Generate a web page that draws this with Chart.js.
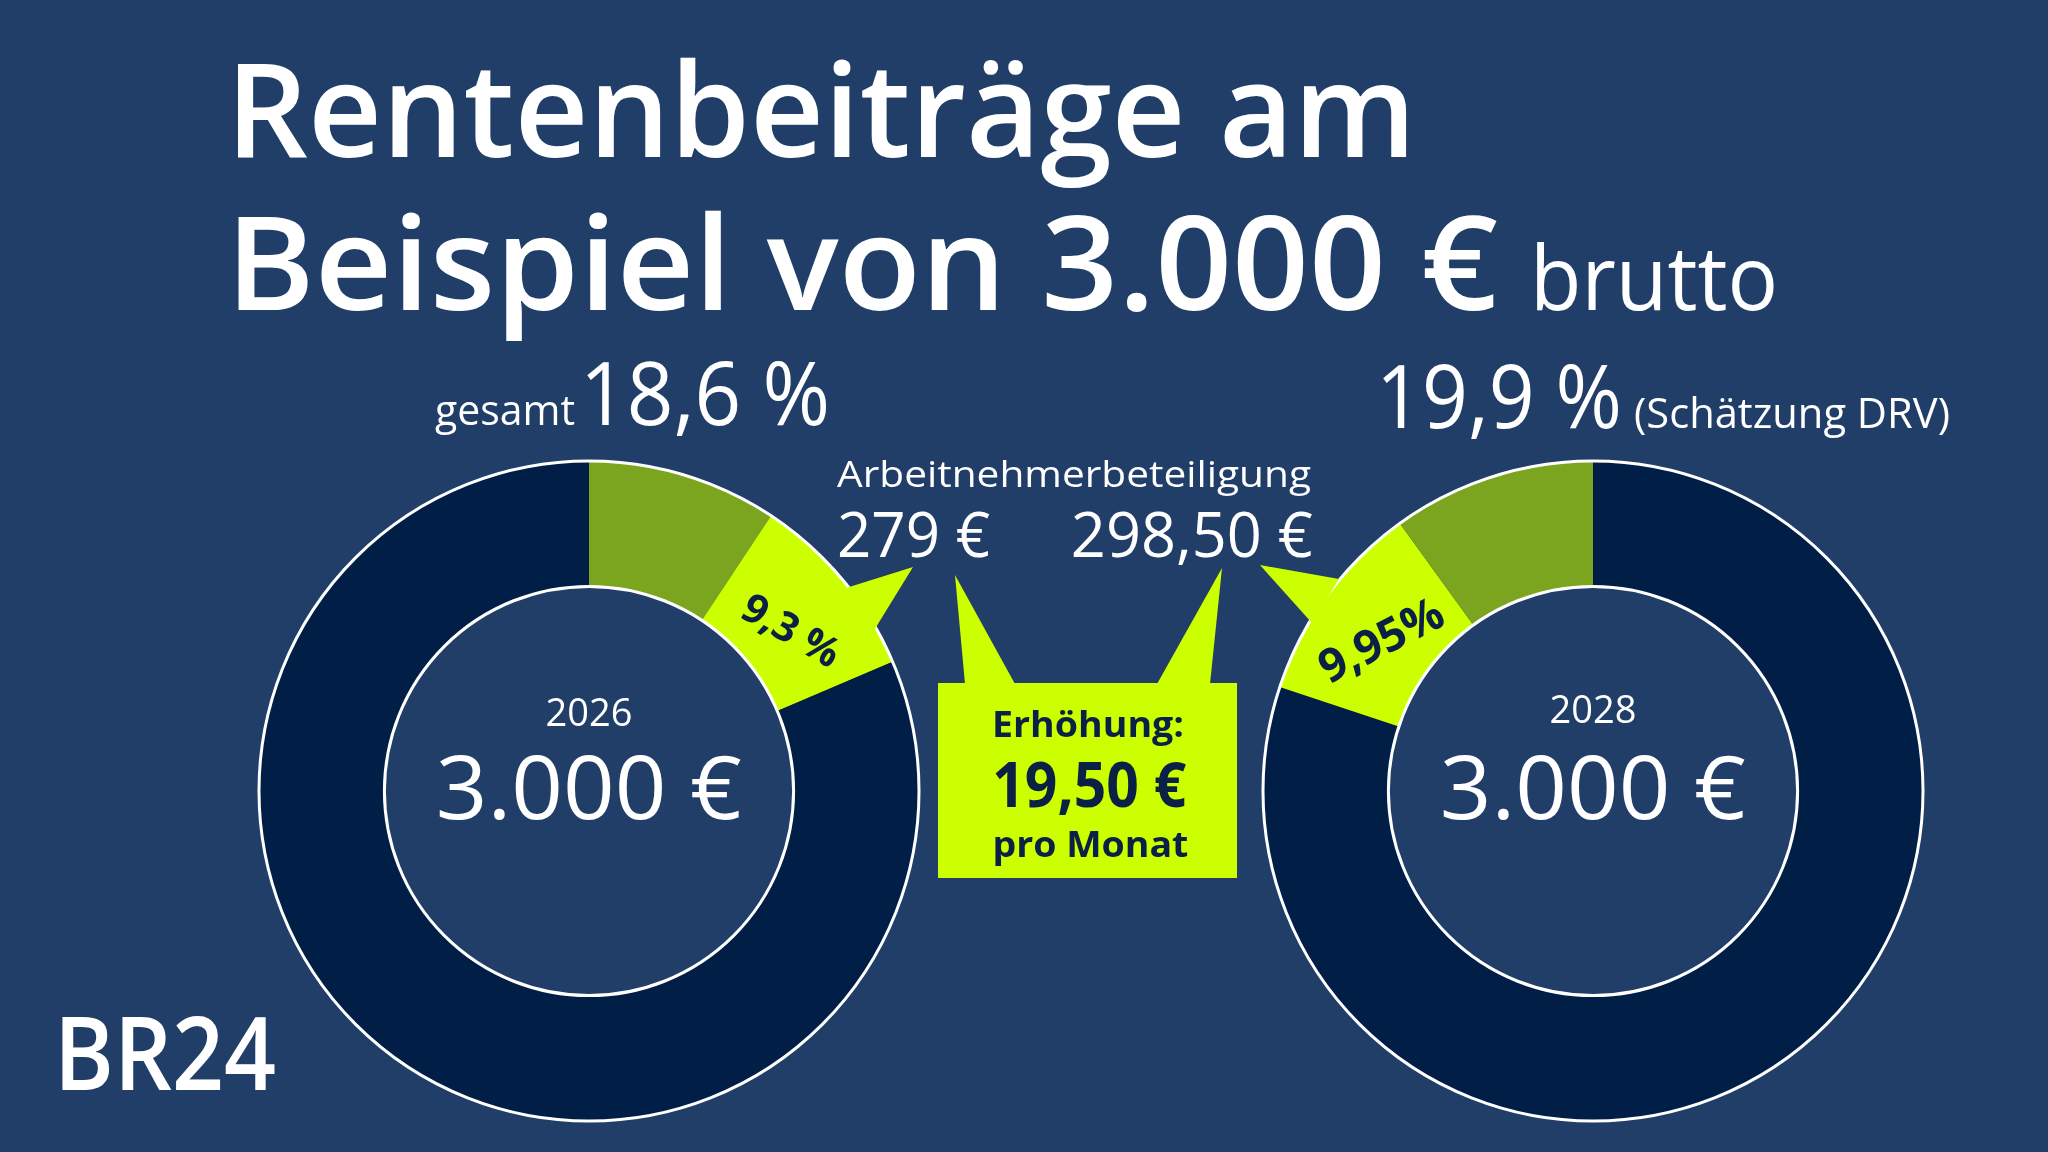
<!DOCTYPE html>
<html lang="de">
<head>
<meta charset="utf-8">
<title>Rentenbeiträge am Beispiel von 3.000 € brutto</title>
<script src="https://cdn.jsdelivr.net/npm/chart.js@4.4.1/dist/chart.umd.min.js"></script>
<style>
  html, body { margin: 0; padding: 0; background: #203e68; }
  #stage { position: relative; width: 2048px; height: 1152px; overflow: hidden; background: #203e68; }
  .ring { position: absolute; width: 670px; height: 670px; top: 456px; }
  #ring2026 { left: 254px; }
  #ring2028 { left: 1258px; }
  #callouts { position: absolute; left: 0; top: 0; }
  .txt { position: absolute; white-space: nowrap; line-height: 1; font-family: 'Open Sans', 'Noto Sans', sans-serif; color: #fff; }
  .seg { position: absolute; white-space: nowrap; line-height: 1; font-family: 'Open Sans', sans-serif; font-weight: 700; color: #0b2045; }
</style>
</head>
<body>
<div id="stage">
  <canvas id="ring2026" class="ring" width="670" height="670"></canvas>
  <canvas id="ring2028" class="ring" width="670" height="670"></canvas>
  <svg id="callouts" width="2048" height="1152">
    <!-- tails from the lime segments -->
    <polygon points="846,588 913,567 873,632" fill="#ccff00"/>
    <polygon points="1339,579 1260,565 1312,623" fill="#ccff00"/>
    <!-- increase box with two tails -->
    <polygon points="965,684 955,575 1015,684" fill="#ccff00"/>
    <polygon points="1157,684 1222,568 1210,684" fill="#ccff00"/>
    <rect x="938" y="683" width="299" height="195" fill="#ccff00"/>
  </svg>
</div>

<script>
// Data: contribution rates in percent of gross pay
const years = ['2026', '2028'];
const grossPay = [3000, 3000];
const totalRate = [18.6, 19.9];
const employeeRate = [9.3, 9.95];
const employerRate = [9.3, 9.95];
const employeeEuro = [279, 298.5];

// Colours
const NAVY = '#011e46';
const LIME = '#ccff00';
const GREEN = '#7ca51f';
const INK = '#0b2045';

const stage = document.getElementById('stage');

// German number formatting
function de(v, decimals) {
  const parts = v.toFixed(decimals).split('.');
  parts[0] = parts[0].replace(/\B(?=(\d{3})+(?!\d))/g, '.');
  return parts.join(',');
}

// White outline at outer and inner edge of the ring
const ringOutline = {
  id: 'ringOutline',
  afterDatasetsDraw(chart) {
    const arc = chart.getDatasetMeta(0).data[0];
    const ctx = chart.ctx;
    ctx.save();
    ctx.strokeStyle = '#ffffff';
    ctx.lineWidth = 3;
    [arc.outerRadius, arc.innerRadius].forEach(r => {
      ctx.beginPath();
      ctx.arc(arc.x, arc.y, r, 0, Math.PI * 2);
      ctx.stroke();
    });
    ctx.restore();
  }
};

function makeRing(canvasId, values, colors) {
  return new Chart(document.getElementById(canvasId), {
    type: 'doughnut',
    data: {
      labels: values.map((_, i) => i),
      datasets: [{
        data: values,
        backgroundColor: colors,
        borderWidth: 0
      }]
    },
    options: {
      responsive: false,
      animation: false,
      cutout: '62%',
      layout: { padding: 5 },
      plugins: {
        legend: { display: false },
        tooltip: { enabled: false }
      }
    },
    plugins: [ringOutline]
  });
}

// 2026: employer share, employee share, rest of gross pay (clockwise from top)
const chart2026 = makeRing('ring2026',
  [employerRate[0], employeeRate[0], 100 - totalRate[0]],
  [GREEN, LIME, NAVY]);

// 2028: rest, employee share, employer share (employer part ends at the top)
const chart2028 = makeRing('ring2028',
  [100 - totalRate[1], employeeRate[1], employerRate[1]],
  [NAVY, LIME, GREEN]);

// Text placement: x anchor, baseline y, size, optional target width
function baselineOf(el) {
  const probe = document.createElement('span');
  probe.style.cssText = 'display:inline-block;width:0;height:0;vertical-align:baseline';
  el.appendChild(probe);
  const off = probe.offsetTop;
  probe.remove();
  return off;
}

function placeText(spec) {
  const el = document.createElement('div');
  el.className = 'txt';
  el.textContent = spec.t;
  el.style.fontSize = spec.s + 'px';
  el.style.fontWeight = spec.weight || 400;
  if (spec.color) el.style.color = spec.color;
  stage.appendChild(el);
  const natural = el.getBoundingClientRect().width;
  const base = baselineOf(el);
  const align = spec.align || 'left';
  let left = spec.x;
  if (align === 'center') left = spec.x - natural / 2;
  if (align === 'right') left = spec.x - natural;
  el.style.left = left + 'px';
  el.style.top = (spec.y - base) + 'px';
  if (spec.w) {
    el.style.transformOrigin = align === 'center' ? 'center' : align;
    el.style.transform = `scaleX(${spec.w / natural})`;
  }
}

function placeSegmentLabel(chart, canvasId, index, text, size, angle, dx, dy) {
  const canvas = document.getElementById(canvasId);
  const p = chart.getDatasetMeta(0).data[index].tooltipPosition();
  const el = document.createElement('div');
  el.className = 'seg';
  el.textContent = text;
  el.style.fontSize = size + 'px';
  el.style.left = (canvas.offsetLeft + p.x + dx) + 'px';
  el.style.top = (canvas.offsetTop + p.y + dy) + 'px';
  el.style.transform = `translate(-50%, -50%) rotate(${angle}deg)`;
  stage.appendChild(el);
}

const increase = employeeEuro[1] - employeeEuro[0];

const texts = [
  { t: 'Rentenbeiträge am', x: 226, y: 157, s: 130, weight: 600, w: 1190 },
  { t: `Beispiel von ${de(grossPay[0], 0)} €`, x: 226, y: 310, s: 130, weight: 600, w: 1272 },
  { t: 'brutto', x: 1530, y: 310, s: 90, w: 248 },
  { t: 'gesamt', x: 435, y: 425, s: 42, w: 140 },
  { t: `${de(totalRate[0], 1)} %`, x: 580, y: 425, s: 88, w: 250 },
  { t: `${de(totalRate[1], 1)} %`, x: 1376, y: 428, s: 88, w: 246 },
  { t: '(Schätzung DRV)', x: 1634, y: 428, s: 42, w: 316 },
  { t: 'Arbeitnehmerbeteiligung', x: 837, y: 487, s: 36, w: 474 },
  { t: `${de(employeeEuro[0], 0)} €`, x: 837, y: 557, s: 62, w: 153 },
  { t: `${de(employeeEuro[1], 2)} €`, x: 1313, y: 557, s: 62, w: 242, align: 'right' },
  { t: years[0], x: 589, y: 726, s: 38, align: 'center' },
  { t: `${de(grossPay[0], 0)} €`, x: 589, y: 819, s: 88, w: 306, align: 'center' },
  { t: years[1], x: 1593, y: 723, s: 38, align: 'center' },
  { t: `${de(grossPay[1], 0)} €`, x: 1593, y: 819, s: 88, w: 306, align: 'center' },
  { t: 'Erhöhung:', x: 1088, y: 737, s: 36, weight: 700, color: INK, w: 192, align: 'center' },
  { t: `${de(increase, 2)} €`, x: 1089, y: 807, s: 63, weight: 700, color: INK, w: 194, align: 'center' },
  { t: 'pro Monat', x: 1090, y: 857, s: 35, weight: 700, color: INK, w: 196, align: 'center' },
  { t: 'BR24', x: 54, y: 1090, s: 102, weight: 600, w: 222 }
];

texts.forEach(placeText);

placeSegmentLabel(chart2026, 'ring2026', 1, `${de(employeeRate[0], 1)} %`, 41, 30, -2, 9);
placeSegmentLabel(chart2028, 'ring2028', 1, `${de(employeeRate[1], 2)}%`, 46, -27, 3, 5);
</script>
</body>
</html>
